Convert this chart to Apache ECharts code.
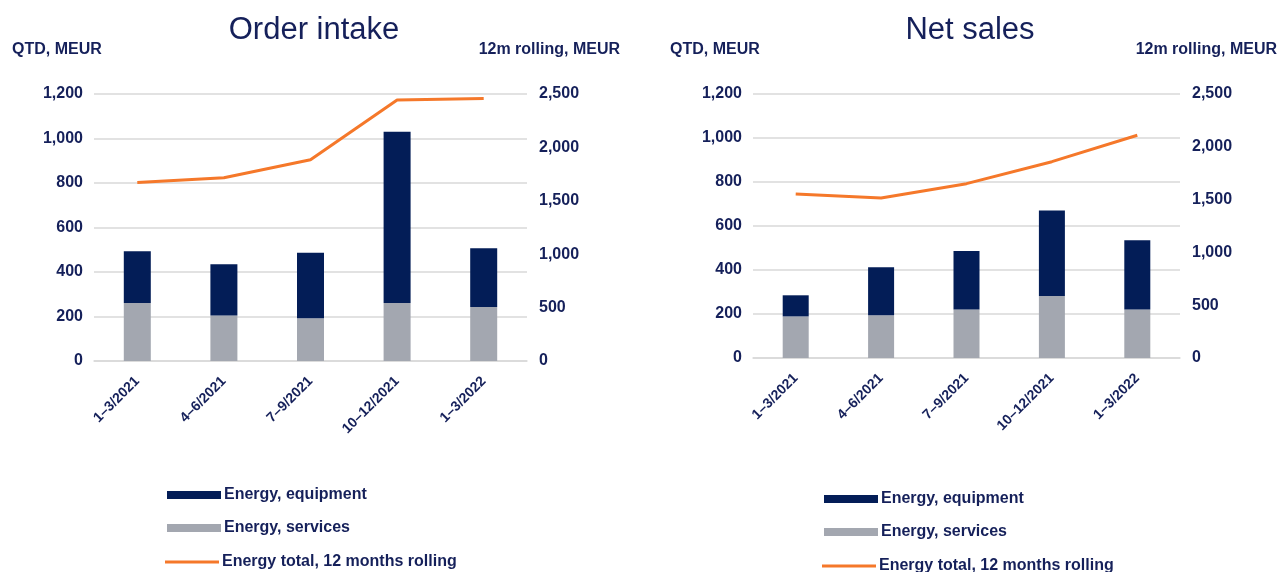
<!DOCTYPE html>
<html>
<head>
<meta charset="utf-8">
<script src="https://cdn.jsdelivr.net/npm/echarts@6/dist/echarts.min.js"></script>
<style>
  html, body { margin: 0; padding: 0; background: #ffffff; overflow: hidden; }
  #wrap { position: relative; width: 1279px; height: 572px; }
  #orders { position: absolute; left: 0; top: 0; width: 640px; height: 572px; }
  #sales { position: absolute; left: 640px; top: 0; width: 639px; height: 572px; }
</style>
</head>
<body>
<div id="wrap">
  <div id="orders"></div>
  <div id="sales"></div>
</div>
<script>
// Quarters shown on both charts
const quarters = ['1\u20133/2021', '4\u20136/2021', '7\u20139/2021', '10\u201312/2021', '1\u20133/2022'];

// Order intake, QTD (MEUR)
const orderEquipment = [232, 230, 294, 769, 264];
const orderServices = [261, 205, 192, 261, 243];
// Order intake, energy total 12 months rolling (MEUR)
const orderRolling = [1672, 1716, 1884, 2444, 2459];

// Net sales, QTD (MEUR)
const salesEquipment = [96, 218, 265, 388, 314];
const salesServices = [189, 194, 221, 282, 221];
// Net sales, energy total 12 months rolling (MEUR)
const salesRolling = [1553, 1515, 1651, 1859, 2109];

// Axis scales
const leftAxis = { min: 0, max: 1200, interval: 200 };
const rightAxis = { min: 0, max: 2500, interval: 500 };

const seriesNames = ['Energy, equipment', 'Energy, services', 'Energy total, 12 months rolling'];

const NAVY_TEXT = '#15205a';
const NAVY_BAR = '#031d57';
const GREY_BAR = '#a3a7b0';
const ORANGE = '#f5782a';
const GRID = '#d9d9d9';
const FONT = '"Liberation Sans", Arial, sans-serif';

const fmt = v => v.toLocaleString('en-US');

// One legend block per entry so each key can have its own swatch height
function legendEntry(name, left, top, swatchHeight) {
  return {
    orient: 'vertical', left: left, top: top, padding: 0,
    itemWidth: 54, itemHeight: swatchHeight,
    selectedMode: false,
    textStyle: { fontFamily: FONT, fontSize: 16, fontWeight: 'bold', color: NAVY_TEXT, padding: [0, 0, 0, -2] },
    data: [{ name: name, icon: 'rect' }]
  };
}

function buildOption(cfg) {
  const titleText = { fontFamily: FONT, fontSize: 16, fontWeight: 'bold', color: NAVY_TEXT };
  return {
    animation: false,
    textStyle: { fontFamily: FONT },
    title: [
      {
        text: cfg.title, left: cfg.titleX, top: 15, textAlign: 'center', padding: 0,
        textStyle: { fontFamily: FONT, fontSize: 31, fontWeight: 'normal', color: NAVY_TEXT }
      },
      { text: 'QTD, MEUR', left: cfg.qtdX, top: 42, padding: 0, textStyle: titleText },
      { text: '12m rolling, MEUR', right: cfg.rollRight, top: 42, padding: 0, textStyle: titleText }
    ],
    legend: [
      legendEntry(seriesNames[0], cfg.legendX, cfg.legendY[0], 8),
      legendEntry(seriesNames[1], cfg.legendX, cfg.legendY[1], 8),
      legendEntry(seriesNames[2], cfg.legendX - 2, cfg.legendY[2], 3)
    ],
    grid: cfg.grid,
    xAxis: {
      type: 'category',
      data: quarters,
      boundaryGap: true,
      axisLine: { lineStyle: { color: GRID, width: 1.5 } },
      axisTick: { show: false },
      axisLabel: {
        interval: 0, rotate: 45, margin: 18,
        fontFamily: FONT, fontSize: 14, fontWeight: 'bold', color: NAVY_TEXT
      }
    },
    yAxis: [
      {
        type: 'value', min: leftAxis.min, max: leftAxis.max, interval: leftAxis.interval,
        axisLine: { show: false }, axisTick: { show: false },
        splitLine: { lineStyle: { color: GRID, width: 1.5 } },
        axisLabel: { margin: 11, formatter: fmt, fontFamily: FONT, fontSize: 16, fontWeight: 'bold', color: NAVY_TEXT }
      },
      {
        type: 'value', min: rightAxis.min, max: rightAxis.max, interval: rightAxis.interval,
        axisLine: { show: false }, axisTick: { show: false },
        splitLine: { show: false },
        axisLabel: { margin: 12, formatter: fmt, fontFamily: FONT, fontSize: 16, fontWeight: 'bold', color: NAVY_TEXT }
      }
    ],
    series: [
      {
        name: seriesNames[1], type: 'bar', stack: 'qtd', barWidth: cfg.barWidth,
        itemStyle: { color: GREY_BAR }, data: cfg.services
      },
      {
        name: seriesNames[0], type: 'bar', stack: 'qtd', barWidth: cfg.barWidth,
        itemStyle: { color: NAVY_BAR }, data: cfg.equipment
      },
      {
        name: seriesNames[2], type: 'line', yAxisIndex: 1, symbol: 'none',
        lineStyle: { color: ORANGE, width: 3 }, itemStyle: { color: ORANGE },
        data: cfg.rolling
      }
    ]
  };
}

const ordersChart = echarts.init(document.getElementById('orders'), null, { renderer: 'canvas' });
ordersChart.setOption(buildOption({
  title: 'Order intake', titleX: 314, qtdX: 12, rollRight: 20,
  legendX: 167, legendY: [487, 520, 554],
  grid: { left: 94, right: 113, top: 94, bottom: 211 },
  barWidth: 27,
  equipment: orderEquipment, services: orderServices, rolling: orderRolling
}));

const salesChart = echarts.init(document.getElementById('sales'), null, { renderer: 'canvas' });
salesChart.setOption(buildOption({
  title: 'Net sales', titleX: 330, qtdX: 30, rollRight: 2,
  legendX: 184, legendY: [491, 524, 558],
  grid: { left: 113, right: 99, top: 94, bottom: 214 },
  barWidth: 26,
  equipment: salesEquipment, services: salesServices, rolling: salesRolling
}));
</script>
</body>
</html>
